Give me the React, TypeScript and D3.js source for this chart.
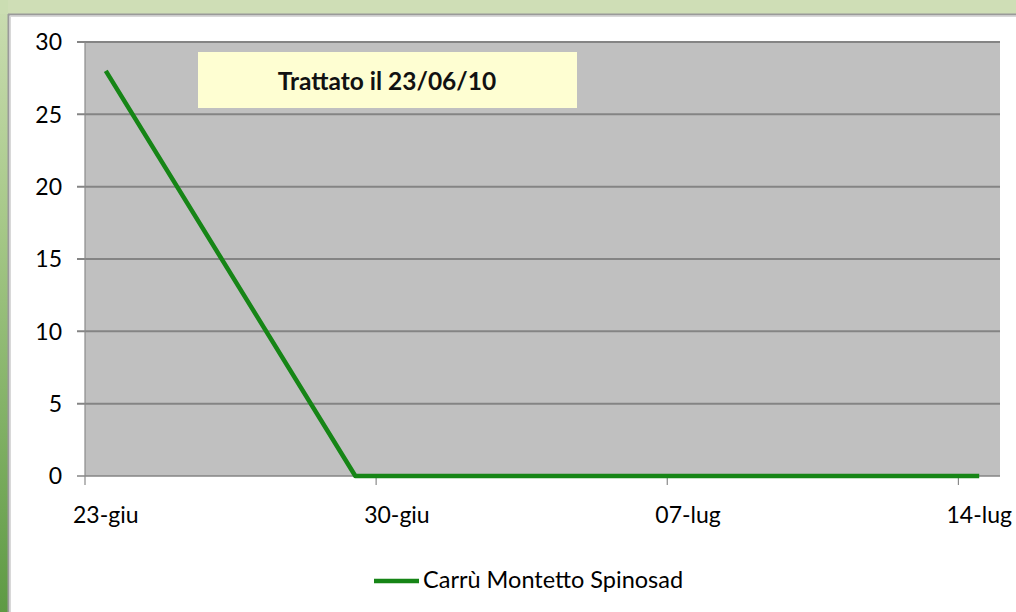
import React from "react";
import * as d3 from "d3";

const obsDates: Date[] = [
  new Date(2010, 5, 23),
  new Date(2010, 5, 29),
  new Date(2010, 6, 6),
  new Date(2010, 6, 14),
];
const obsValues: number[] = [28, 0, 0, 0];
const seriesName = "Carrù Montetto Spinosad";
const xTickDates: Date[] = [
  new Date(2010, 5, 23),
  new Date(2010, 5, 30),
  new Date(2010, 6, 7),
  new Date(2010, 6, 14),
];
const xTickLabels: string[] = ["23-giu", "30-giu", "07-lug", "14-lug"];
const yTicks: number[] = [0, 5, 10, 15, 20, 25, 30];
const annotation = "Trattato il 23/06/10";

const W = 1016;
const H = 612;
const plot = { left: 85, right: 1000, top: 42, bottom: 476 };
const FONT = "Lato, 'Open Sans', sans-serif";

export default function App() {
  const x = d3
    .scaleTime()
    .domain([new Date(2010, 5, 23), new Date(2010, 6, 15)])
    .range([plot.left, plot.right]);
  const halfDay = (d: Date) => new Date(d.getTime() + 12 * 3600 * 1000);
  const y = d3.scaleLinear().domain([0, 30]).range([plot.bottom, plot.top]);

  const line = d3
    .line<number>()
    .x((_, i) => x(halfDay(obsDates[i])))
    .y((v) => y(v));

  return (
    <svg
      width={W}
      height={H}
      style={{ position: "absolute", left: 0, top: 0, display: "block" }}
    >
      <defs>
        <linearGradient id="leftStrip" x1="0" y1="0" x2="0" y2="1">
          <stop offset="0" stopColor="#cbddb2" />
          <stop offset="0.35" stopColor="#a8c98a" />
          <stop offset="1" stopColor="#5e9a44" />
        </linearGradient>
      </defs>
      <rect x={0} y={0} width={W} height={H} fill="#ffffff" />
      <rect x={0} y={0} width={W} height={14} fill="#cfdeb6" />
      <rect x={0} y={0} width={8} height={H} fill="url(#leftStrip)" />
      <rect x={0} y={0} width={8} height={14} fill="#cbddb2" />
      {/* chart border */}
      <line x1={8} y1={14.5} x2={W} y2={14.5} stroke="#9a9a9a" strokeWidth={2} />
      <line x1={8.5} y1={14} x2={8.5} y2={H} stroke="#9a9a9a" strokeWidth={2} />
      <line x1={10} y1={16.5} x2={W} y2={16.5} stroke="#d8d8d8" strokeWidth={1} />
      <line x1={10.5} y1={16} x2={10.5} y2={H} stroke="#d8d8d8" strokeWidth={1} />

      {/* plot area */}
      <rect
        x={plot.left}
        y={plot.top}
        width={plot.right - plot.left}
        height={plot.bottom - plot.top}
        fill="#c0c0c0"
      />
      {yTicks.map((t) => (
        <line
          key={"g" + t}
          x1={plot.left - 8}
          x2={plot.right}
          y1={y(t)}
          y2={y(t)}
          stroke="#848484"
          strokeWidth={t === 0 ? 1.5 : 2}
        />
      ))}
      <line
        x1={plot.left}
        x2={plot.left}
        y1={plot.top}
        y2={plot.bottom}
        stroke="#8a8a8a"
        strokeWidth={1.2}
      />
      {xTickDates.map((d, i) => (
        <line
          key={"xt" + i}
          x1={x(d)}
          x2={x(d)}
          y1={plot.bottom}
          y2={plot.bottom + 9}
          stroke="#8a8a8a"
          strokeWidth={1.2}
        />
      ))}
      {yTicks.map((t) => (
        <text
          key={"yl" + t}
          x={62}
          y={y(t)}
          dy="0.36em"
          textAnchor="end"
          fontFamily={FONT}
          fontSize={23}
          fill="#000"
        >
          {t}
        </text>
      ))}
      {xTickDates.map((d, i) => (
        <text
          key={"xl" + i}
          x={x(halfDay(d))}
          y={523}
          textAnchor="middle"
          fontFamily={FONT}
          fontSize={23}
          fill="#000"
        >
          {xTickLabels[i]}
        </text>
      ))}

      {/* annotation */}
      <rect x={198} y={52} width={379} height={56} fill="#fefed2" />
      <text
        x={387}
        y={90}
        textAnchor="middle"
        fontFamily={FONT}
        fontWeight="bold"
        fontSize={24.5}
        fill="#111"
      >
        {annotation}
      </text>

      {/* series */}
      <path
        d={line(obsValues) || ""}
        fill="none"
        stroke="#168516"
        strokeWidth={4.5}
        strokeLinejoin="round"
      />

      {/* legend */}
      <line x1={374} x2={419} y1={581} y2={581} stroke="#168516" strokeWidth={4.5} />
      <text x={423} y={588} fontFamily={FONT} fontSize={23.5} fill="#000">
        {seriesName}
      </text>
    </svg>
  );
}
